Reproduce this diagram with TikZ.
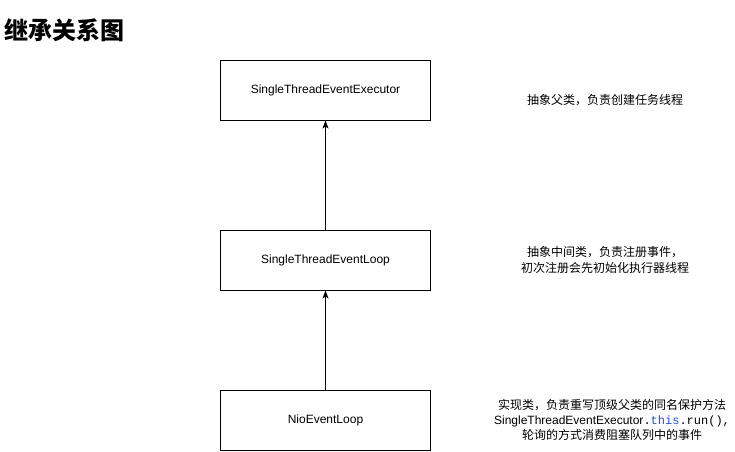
\documentclass[tikz,border=0pt]{standalone}
\usepackage{fontspec}
\setmainfont{Liberation Sans}
\newfontfamily\cjk{Noto Sans CJK SC}
\newfontfamily\monof{Liberation Mono}
\usetikzlibrary{arrows.meta}
\definecolor{kwblue}{RGB}{30,80,200}
\begin{document}
\begin{tikzpicture}[x=0.75pt,y=-0.75pt,
  box/.style={draw, line width=0.75pt, minimum width=157.5pt, minimum height=45pt, inner sep=0pt, font=\fontsize{9}{11}\selectfont},
  note/.style={align=center, font=\cjk\fontsize{9}{11.5}\selectfont, inner sep=0pt},
  inherit/.style={-{Stealth[length=6pt,width=4.5pt,inset=1.5pt]}, line width=0.75pt}]
\useasboundingbox (0,0) rectangle (735,451);
\node[anchor=west, font=\cjk\bfseries\fontsize{18}{20}\selectfont, inner sep=0pt] (title) at (4,30) {继承关系图};
\node[box] (exec) at (325.5,90) {SingleThreadEventExecutor};
\node[box] (loop) at (325.5,260) {SingleThreadEventLoop};
\node[box] (nio) at (325.5,420) {NioEventLoop};
\draw[inherit] (loop) -- (exec);
\draw[inherit] (nio) -- (loop);
\node[note] (n1) at (605,100) {抽象父类，负责创建任务线程};
\node[note] (n2) at (605,260) {抽象中间类，负责注册事件，\\初次注册会先初始化执行器线程};
\node[note] (n3) at (612,420) {实现类，负责重写顶级父类的同名保护方法\\{\rmfamily SingleThreadEventExecutor}{\monof .\textcolor{kwblue}{this}.run(),}\\轮询的方式消费阻塞队列中的事件};
\end{tikzpicture}
\end{document}
